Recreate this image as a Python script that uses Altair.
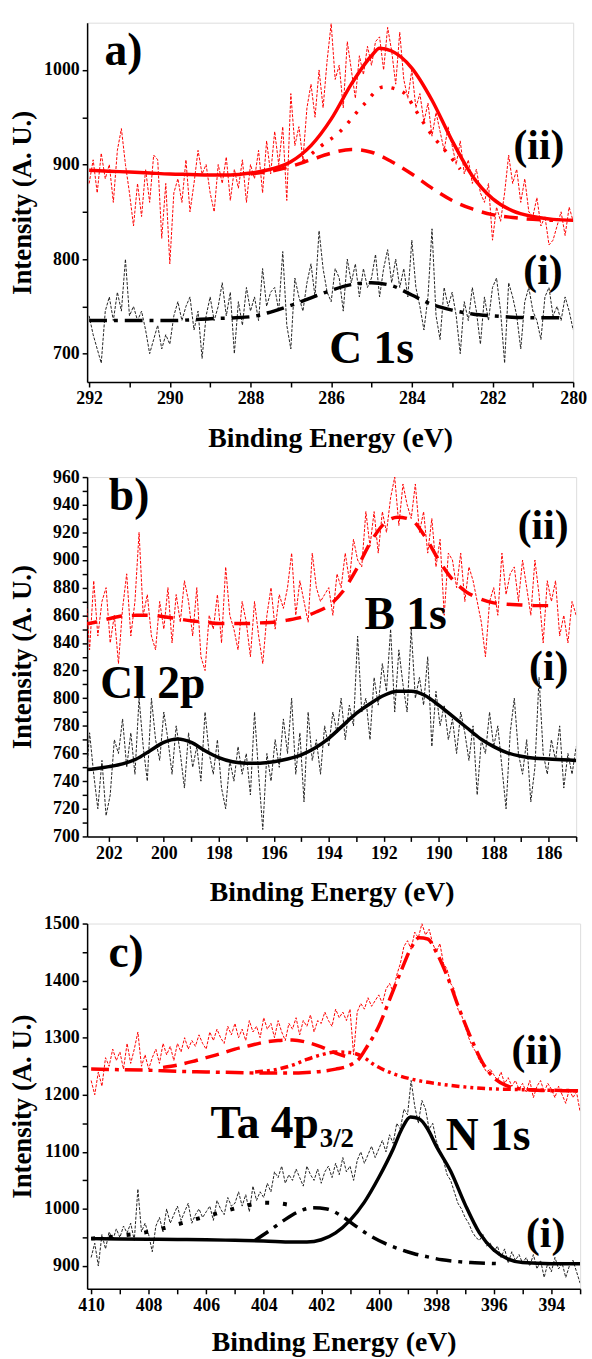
import altair as alt
import pandas as pd

FONT = "Liberation Serif"
RED = "#ff0000"
BLACK = "#000000"

# ---------------- Panel a : C 1s ----------------
a_energy = [round(292.0 - 0.1 * i, 2) for i in range(121)]
a_raw_ii = [
    880, 905, 870, 912, 885, 900, 860, 915, 938, 900,
    870, 835, 880, 845, 895, 860, 910, 905, 822, 880,
    795, 870, 885, 860, 905, 850, 880, 915, 890, 900,
    870, 850, 900, 880, 908, 862, 895, 875, 905, 860,
    900, 885, 915, 870, 925, 890, 935, 900, 940, 862,
    975, 920, 940, 905, 960, 985, 950, 1000, 960, 1010,
    1049, 990, 1005, 960, 1030, 1000, 970, 1015, 995, 1025,
    1005, 1030, 1035, 1000, 1045, 1020, 985, 1040, 990, 970,
    1000, 960, 975, 945, 965, 930, 955, 935, 915, 940,
    920, 900, 925, 890, 905, 880, 895, 870, 860, 880,
    820, 855, 840, 870, 910, 880, 895, 860, 885, 850,
    845, 865, 835, 845, 815, 820, 835, 850, 825, 855,
    840]
a_raw_i = [
    740, 720, 705, 690, 745, 760, 735, 765, 745, 800,
    740, 750, 735, 745, 725, 700, 715, 730, 705, 720,
    710, 740, 755, 735, 750, 760, 725, 745, 695, 740,
    760, 735, 750, 775, 740, 765, 700, 755, 730, 770,
    745, 760, 735, 790, 750, 765, 770, 745, 808, 730,
    705, 780, 760, 745, 775, 795, 760, 830, 790, 765,
    755, 790, 780, 745, 800, 775, 795, 760, 790, 770,
    780, 805, 760, 790, 810, 775, 800, 770, 790, 760,
    820, 770, 750, 725, 760, 832, 740, 715, 770, 750,
    765, 740, 700, 755, 735, 770, 745, 710, 760, 735,
    770, 780, 745, 690, 775, 760, 740, 705, 755, 770,
    745, 735, 715, 760, 770, 740, 750, 735, 760, 745,
    725]
a_fit_x = [292, 291.5, 291, 290.5, 290, 289.5, 289, 288.5, 288, 287.5, 287, 286.5,
           286, 285.5, 285, 284.8, 284.5, 284, 283.5, 283, 282.5, 282, 281.5, 281, 280.5, 280]
a_fit_ii = [894, 893, 892, 891, 890, 889.5, 889, 889, 891, 895, 903, 920,
            948, 985, 1015, 1023, 1020, 1002, 968, 925, 888, 864, 851, 845, 842, 841]
a_comp1_x = [288, 287.5, 287, 286.5, 286, 285.5, 285, 284.5, 284, 283.5, 283, 282.5, 282, 281.5, 281, 280.5]
a_comp1_y = [890, 893, 898, 905, 912, 916, 913, 903, 890, 875, 862, 853, 847, 844, 842, 841]
a_comp2_x = [286.7, 286.3, 285.8, 285.2, 284.7, 284.2, 283.9, 283.6, 283.0, 282.8]
a_comp2_y = [903, 918, 934, 963, 982, 976, 957, 937, 906, 895]
a_fit_i_x = [292, 291, 290, 289, 288, 287.5, 287, 286.5, 286, 285.5, 285, 284.5, 284, 283.5,
             283, 282.5, 282, 281, 280.2]
a_fit_i_y = [735, 735, 735, 737, 739, 744, 751, 759, 767, 773, 775, 772, 762, 752,
             746, 742, 740, 738, 738]

# ---------------- Panel b : B 1s / Cl 2p ----------------
b_energy = [round(203.0 - 0.15 * i, 2) for i in range(121)]
b_raw_ii = [
    850, 880, 835, 885, 845, 870, 880, 840, 860, 825,
    865, 890, 845, 870, 920, 860, 875, 845, 835, 870,
    850, 880, 840, 875, 855, 885, 870, 845, 880, 830,
    820, 860, 850, 875, 840, 895, 860, 850, 835, 870,
    855, 830, 870, 845, 825, 860, 880, 850, 875, 865,
    880, 905, 860, 885, 870, 855, 905, 880, 870, 875,
    880, 860, 890, 880, 905, 885, 915, 900, 895, 935,
    910, 935, 905, 935, 920, 945, 960, 925, 955, 940,
    930, 955, 920, 935, 905, 930, 895, 915, 860, 905,
    900, 880, 905, 870, 895, 885, 870, 855, 830, 870,
    880, 860, 905, 875, 890, 895, 870, 900, 880, 860,
    900, 875, 840, 885, 870, 885, 845, 860, 840, 870,
    860]
b_raw_i = [
    760, 735, 775, 745, 720, 755, 715, 730, 770, 760,
    785, 750, 775, 745, 800, 765, 740, 800, 770, 755,
    790, 770, 745, 780, 760, 735, 775, 750, 765, 740,
    790, 760, 745, 770, 735, 720, 755, 740, 765, 745,
    760, 730, 790, 745, 705, 760, 740, 770, 750, 785,
    760, 800, 745, 775, 725, 790, 755, 770, 745, 780,
    765, 790, 775, 800, 770, 795, 780, 845, 790, 800,
    770, 815, 795, 825, 805, 850, 790, 835, 810, 790,
    850, 800, 815, 795, 830, 765, 805, 780, 795, 770,
    785, 760, 790, 775, 755, 780, 730, 770, 760, 790,
    765, 780, 750, 720, 775, 800, 760, 745, 770, 725,
    750, 815, 760, 745, 770, 755, 780, 735, 760, 745,
    765]
b_fit_x = [203, 202.5, 202, 201.5, 201, 200.5, 200, 199.5, 199, 198.5, 198, 197.5, 197,
           196.5, 196, 195.5, 195, 194.5, 194, 193.5, 193, 192.5, 192, 191.5, 191, 190.5,
           190, 189.5, 189, 188.5, 188, 187.5, 187, 186.5, 186, 185.5, 185]
b_fit_ii = [853, 855, 857.5, 859.5, 860, 860, 859, 857.5, 856, 855, 854, 854, 854,
            854.5, 855, 856.5, 858.5, 862, 867, 877, 893, 912, 926, 931, 929, 917,
            900, 886, 877, 872, 869, 868, 867.5, 867, 867, None, None]
b_fit_i = [748, 749, 750.5, 752.5, 756, 762, 768, 770.5, 768, 762, 757, 754, 753,
           753, 754, 756, 759, 764, 771, 780, 789, 796, 802, 805, 805, 802,
           795, 787, 779, 771, 765, 760.5, 758, 756.5, 756, 755.5, 755]

# ---------------- Panel c : N 1s / Ta 4p3/2 ----------------
c_energy = [round(410.0 - 0.125 * i, 3) for i in range(137)]
c_raw_i = [
    915, 940, 900, 955, 930, 960, 945, 965,
    950, 970, 958, 975, 945, 1035, 960, 975,
    955, 925, 970, 985, 960, 1000, 975, 990,
    1005, 980, 995, 1010, 975, 990, 1000, 985,
    995, 1005, 980, 1015, 1000, 990, 1020, 1005,
    1010, 1030, 1005, 1025, 995, 1040, 1015, 1030,
    1020, 1045, 1030, 1065, 1055, 1075, 1045, 1060,
    1050, 1070, 1055, 1040, 1075, 1060, 1050, 1070,
    1045, 1065, 1075, 1055, 1080, 1060, 1090, 1065,
    1075, 1050, 1085, 1100, 1080, 1095, 1110, 1090,
    1105, 1120, 1100, 1130, 1115, 1150, 1140, 1175,
    1165, 1225, 1180, 1150, 1190, 1175, 1140, 1150,
    1120, 1100, 1085, 1060, 1050, 1030, 1010, 1000,
    985, 975, 960, 950, 945, 955, 935, 940,
    925, 935, 915, 930, 905, 925, 910, 920,
    905, 915, 900, 920, 895, 910, 880, 905,
    890, 915, 895, 905, 880, 900, 910, 890,
    870]
c_raw_ii = [
    1225, 1200, 1240, 1215, 1265, 1250, 1280, 1260,
    1275, 1245, 1290, 1255, 1280, 1310, 1250, 1270,
    1245, 1265, 1280, 1255, 1290, 1270, 1285, 1260,
    1290, 1275, 1300, 1280, 1295, 1285, 1305, 1290,
    1280, 1310, 1295, 1315, 1300, 1290, 1320, 1305,
    1325, 1300, 1315, 1295, 1330, 1310, 1320, 1300,
    1335, 1315, 1325, 1300, 1330, 1310, 1295, 1325,
    1315, 1335, 1305, 1330, 1320, 1340, 1310, 1330,
    1325, 1345, 1330, 1320, 1350, 1335, 1345, 1330,
    1350, 1270, 1345, 1360, 1350, 1370, 1355, 1365,
    1375, 1360, 1385, 1395, 1380, 1410, 1430, 1460,
    1470, 1455, 1485, 1475, 1500, 1480, 1490, 1465,
    1450, 1465, 1430, 1420, 1395, 1385, 1350, 1340,
    1320, 1300, 1285, 1275, 1260, 1250, 1240, 1245,
    1235, 1225, 1240, 1220, 1230, 1215, 1225, 1210,
    1220, 1205, 1225, 1195, 1215, 1225, 1205, 1220,
    1210, 1195, 1215, 1200, 1185, 1210, 1195, 1205,
    1170]
c_fit_ii_x = [410, 409, 408, 407, 406, 405, 404, 403, 402.5, 402, 401.5, 401, 400.7, 400.4,
              400, 399.6, 399.2, 398.9, 398.6, 398.3, 398, 397.6, 397.2, 396.8, 396.4, 396,
              395.6, 395.2, 394.5, 394, 393]
c_fit_ii_y = [1245, 1244, 1243, 1241, 1240, 1239, 1238, 1238, 1239, 1241, 1245, 1252, 1262, 1285,
              1320, 1370, 1420, 1455, 1475, 1473, 1450, 1405, 1350, 1300, 1257, 1230,
              1217, 1211, 1208, 1207, 1207]
c_broad_x = [407.5, 407, 406.5, 406, 405.5, 405, 404.5, 404, 403.5, 403, 402.5, 402, 401.5, 401]
c_broad_y = [1248, 1252, 1258, 1265, 1272, 1280, 1286, 1292, 1295, 1296, 1292, 1284, 1273, 1265]
c_dot_x = [404.3, 403.5, 403, 402.5, 402, 401.5, 401, 400.5, 400.2, 399.5, 398.9, 397.6, 396.3, 395, 393]
c_dot_y = [1240, 1245, 1252, 1262, 1270, 1275, 1274, 1265, 1254, 1237, 1228, 1217, 1211, 1209, 1207]
c_fit_i_x = [410, 409, 408, 407, 406, 405, 404, 403, 402.5, 402, 401.5, 401, 400.5, 400, 399.5,
             399.2, 398.9, 398.6, 398.3, 398, 397.5, 397, 396.5, 396, 395.5, 395, 394, 393]
c_fit_i_y = [948, 947.5, 947, 946.5, 946, 945, 944, 942, 942, 946, 958, 980, 1012, 1055, 1105,
             1140, 1161, 1158, 1140, 1110, 1066, 1008, 958, 928, 912, 906, 904, 904]
c_ta_x = [404.3, 403.8, 403.3, 402.8, 402.3, 401.8, 401.3, 400.8, 400.3, 399.8, 399.3, 398.8,
          398.3, 397.8, 397.3, 396.8, 396.3, 395.8]
c_ta_y = [945, 962, 980, 995, 1002, 1000, 988, 970, 953, 940, 930, 922, 916, 911, 908, 906, 905, 904]
c_bg_x = [410, 409.5, 409, 408.5, 408, 407.5, 407, 406.5, 406, 405.5, 405, 404.5, 404, 403.5, 403]
c_bg_y = [948, 950, 953, 956, 960, 966, 973, 980, 987, 994, 1001, 1007, 1011, 1010, 1006]


def axis_common(**kw):
    base = dict(
        domainColor=BLACK, domainWidth=1.5, tickColor=BLACK, tickWidth=1.5, tickSize=5,
        labelFont=FONT, labelFontSize=18, labelFontWeight="bold", labelColor=BLACK,
        labelPadding=3, labelFlush=False, labelOverlap=False,
        titleFont=FONT, titleFontWeight="bold", titleColor=BLACK,
        grid=False,
    )
    base.update(kw)
    return alt.Axis(**base)


def make_panel(xdom, xvals, ydom, yvals, ystep, width, height, lines, texts, xtitle_y=57):
    X = alt.X("E:Q", scale=alt.Scale(domain=xdom, reverse=True, nice=False, zero=False),
              axis=axis_common(values=xvals,
                               labelExpr="datum.value % 2 == 0 ? datum.label : ''",
                               title="Binding Energy (eV)", titleFontSize=28, titleY=xtitle_y,
                               titleBaseline="middle"))
    Y = alt.Y("I:Q", scale=alt.Scale(domain=ydom, nice=False, zero=False),
              axis=axis_common(values=yvals, format="d",
                               labelExpr=f"datum.value % {ystep} == 0 ? datum.label : ''",
                               title="Intensity (A. U.)", titleFontSize=27, titleX=-65,
                               titleY=height / 2, titleBaseline="middle",
                               titleAlign="center", titleAngle=270))
    layers = []
    for xs, ys, color, sw, dash, interp in lines:
        df = pd.DataFrame({"E": xs, "I": ys}).dropna()
        mk = dict(color=color, strokeWidth=sw, interpolate=interp, clip=True)
        if dash:
            mk["strokeDash"] = dash
        layers.append(alt.Chart(df).mark_line(**mk).encode(x=X, y=Y))
    for tx, ty, t, size, align in texts:
        df = pd.DataFrame({"E": [tx], "I": [ty], "t": [t]})
        layers.append(alt.Chart(df).mark_text(
            font=FONT, fontWeight="bold", fontSize=size, align=align,
            baseline="alphabetic", color=BLACK).encode(x=X, y=Y, text="t:N"))
    return alt.layer(*layers).properties(width=width, height=height)


RAWDASH = [3, 1.5]

panel_a = make_panel(
    [280, 292.05], list(range(280, 293)), [670, 1050], list(range(700, 1001, 50)), 100,
    491, 363,
    [
        (a_energy, a_raw_ii, RED, 1, RAWDASH, "linear"),
        (a_energy, a_raw_i, "#222222", 1, RAWDASH, "linear"),
        (a_fit_i_x, a_fit_i_y, BLACK, 3.5, [18, 7, 4, 7], "monotone"),
        (a_comp1_x, a_comp1_y, RED, 3.5, [14, 9], "monotone"),
        (a_comp2_x, a_comp2_y, RED, 3.5, [3, 9], "monotone"),
        (a_fit_x, a_fit_ii, RED, 3.5, None, "monotone"),
    ],
    [
        (291.62, 1005, "a)", 46, "left"),
        (280.85, 906, "(ii)", 42, "center"),
        (280.75, 774, "(i)", 42, "center"),
        (285.0, 690, "C 1s", 46, "center"),
    ],
)

panel_b = make_panel(
    [185, 202.79], list(range(185, 203)), [700, 960], list(range(700, 961, 10)), 20,
    494, 363,
    [
        (b_energy, b_raw_ii, RED, 1, RAWDASH, "linear"),
        (b_energy, b_raw_i, "#222222", 1, RAWDASH, "linear"),
        (b_fit_x, b_fit_ii, RED, 3.5, [16, 10], "monotone"),
        (b_fit_x, b_fit_i, BLACK, 3.5, None, "monotone"),
    ],
    [
        (202.0, 936, "b)", 46, "left"),
        (186.2, 915, "(ii)", 42, "center"),
        (191.2, 850, "B 1s", 46, "center"),
        (200.4, 800, "Cl 2p", 46, "center"),
        (186.0, 813, "(i)", 42, "center"),
    ],
)

panel_c = make_panel(
    [393, 410.14], list(range(393, 411)), [860, 1500], list(range(900, 1501, 50)), 100,
    498, 369,
    [
        (c_energy, c_raw_ii, RED, 1, RAWDASH, "linear"),
        (c_energy, c_raw_i, "#222222", 1, RAWDASH, "linear"),
        (c_broad_x, c_broad_y, RED, 3.5, [14, 8], "monotone"),
        (c_dot_x, c_dot_y, RED, 3.5, [8, 4, 3, 4, 3, 4], "monotone"),
        (c_fit_ii_x, c_fit_ii_y, RED, 3.5, [18, 6, 4, 6], "monotone"),
        (c_bg_x, c_bg_y, BLACK, 4, [4, 14], "monotone"),
        (c_ta_x, c_ta_y, BLACK, 3.5, [16, 7, 4, 7], "monotone"),
        (c_fit_i_x, c_fit_i_y, BLACK, 3.5, None, "monotone"),
    ],
    [
        (409.4, 1424, "c)", 46, "left"),
        (394.5, 1254, "(ii)", 42, "center"),
        (394.2, 933, "(i)", 42, "center"),
        (405.85, 1124, "Ta 4p", 46, "left"),
        (402.05, 1108, "3/2", 27, "left"),
        (396.2, 1103, "N 1s", 46, "center"),
    ],
    xtitle_y=54,
)

top = alt.vconcat(panel_a, panel_b, spacing=14)
chart = alt.vconcat(top, panel_c, spacing=6).properties(
    padding={"left": 8, "top": 15, "right": 5, "bottom": 0},
).configure_view(stroke=None).configure_axis(labelOverlap=False).configure(background="white")

chart.save("out.html", embed_options={"renderer": "svg", "actions": False})
